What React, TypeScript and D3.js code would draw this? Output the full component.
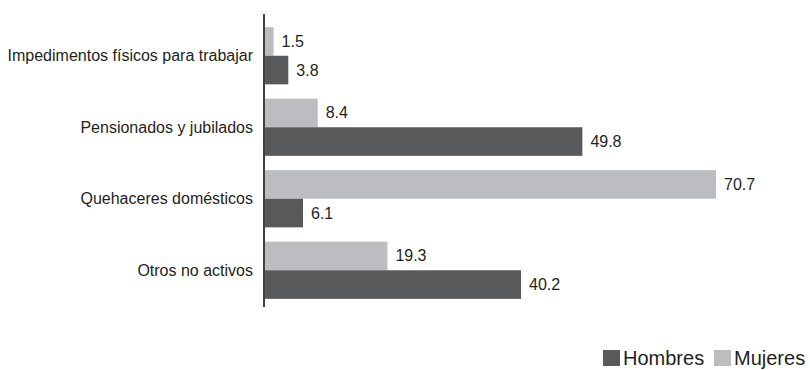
import React from "react";
import * as d3 from "d3";

const categories = [
  "Impedimentos físicos para trabajar",
  "Pensionados y jubilados",
  "Quehaceres domésticos",
  "Otros no activos",
];
const seriesNames = ["Mujeres", "Hombres"];
const mujeres = [1.5, 8.4, 70.7, 19.3];
const hombres = [3.8, 49.8, 6.1, 40.2];
const legendItems = ["Hombres", "Mujeres"];

const colors: Record<string, string> = {
  Mujeres: "#bcbdc0",
  Hombres: "#58595b",
};

const FONT = "'Liberation Sans', Arial, Helvetica, sans-serif";

export default function App() {
  const width = 810;
  const height = 370;
  const x0 = 264;
  const x = d3.scaleLinear().domain([0, 70.7]).range([x0, 716]);
  const y = d3
    .scaleBand<string>()
    .domain(categories)
    .range([20, 306])
    .paddingInner(0.2)
    .paddingOuter(0.1);
  const inner = d3
    .scaleBand<string>()
    .domain(seriesNames)
    .range([0, y.bandwidth()]);
  const values: Record<string, number[]> = { Mujeres: mujeres, Hombres: hombres };

  return (
    <svg
      width={width}
      height={height}
      style={{ position: "absolute", left: 0, top: 0, background: "#fff" }}
      fontFamily={FONT}
    >
      {categories.map((c, i) => (
        <g key={c}>
          <text
            x={253}
            y={(y(c) ?? 0) + y.bandwidth() / 2}
            textAnchor="end"
            dominantBaseline="central"
            fontSize={16}
            fill="#231f20"
          >
            {c}
          </text>
          {seriesNames.map((s) => {
            const v = values[s][i];
            const by = (y(c) ?? 0) + (inner(s) ?? 0);
            return (
              <g key={s}>
                <rect
                  x={x(0)}
                  y={by}
                  width={x(v) - x(0)}
                  height={inner.bandwidth()}
                  fill={colors[s]}
                />
                <text
                  x={x(v) + 8}
                  y={by + inner.bandwidth() / 2}
                  dominantBaseline="central"
                  fontSize={16}
                  fill="#231f20"
                >
                  {v.toFixed(1)}
                </text>
              </g>
            );
          })}
        </g>
      ))}
      <line x1={x0} x2={x0} y1={14} y2={307} stroke="#414042" strokeWidth={2} />
      {legendItems.map((s, i) => {
        const lx = i === 0 ? 603 : 714;
        return (
          <g key={s}>
            <rect x={lx} y={350} width={17} height={16} fill={colors[s]} />
            <text x={lx + 20} y={365} fontSize={20} fill="#231f20">
              {s}
            </text>
          </g>
        );
      })}
    </svg>
  );
}
